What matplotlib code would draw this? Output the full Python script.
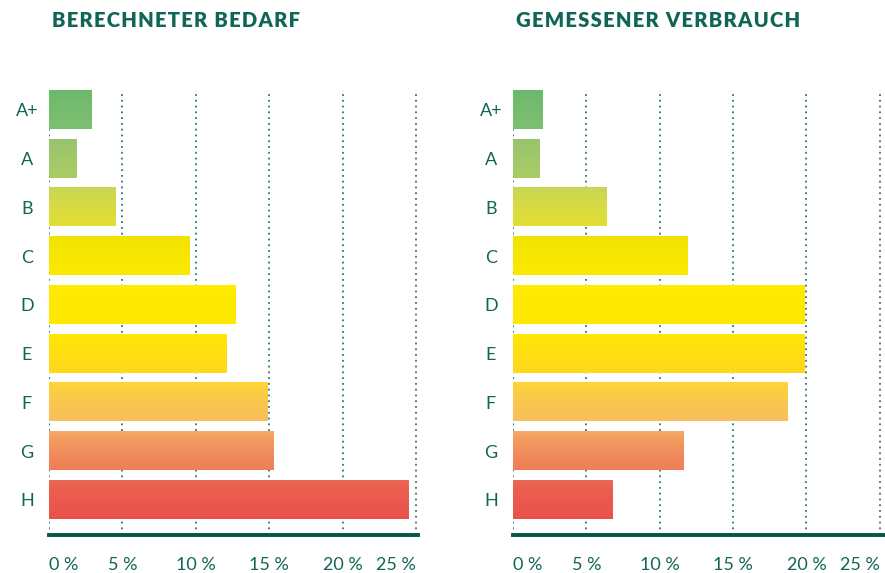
import numpy as np
import matplotlib.pyplot as plt
from matplotlib.colors import LinearSegmentedColormap

plt.rcParams['font.family'] = ['Lato', 'DejaVu Sans']

classes = ['A+', 'A', 'B', 'C', 'D', 'E', 'F', 'G', 'H']
bedarf = [2.9, 1.9, 4.5, 9.6, 12.7, 12.1, 14.9, 15.3, 24.5]
verbrauch = [2.0, 1.8, 6.4, 11.9, 19.9, 19.9, 18.7, 11.6, 6.8]
xticks = [0, 5, 10, 15, 20, 25]
xlabels = ['0 %', '5 %', '10 %', '15 %', '20 %', '25 %']

# top / bottom colour of each bar (vertical gradient)
grad = [('#6bb86c', '#7dbf70'),
        ('#95c36f', '#aacc66'),
        ('#c6d55a', '#e2df34'),
        ('#efe200', '#fce900'),
        ('#ffec00', '#fde800'),
        ('#ffe700', '#ffd81c'),
        ('#ffd634', '#f8bf5d'),
        ('#f6ab65', '#ee7e57'),
        ('#ed6754', '#e9524a')]

txt = '#0f6656'
dark = '#045645'


def spaced(s):
    # fake letter spacing with hair spaces
    return '\u200a'.join(s)


def panel(ax, values, title, xmax):
    y = np.arange(len(classes))
    bars = ax.barh(y, values, height=0.78, color='none', zorder=3)
    g = np.linspace(0, 1, 64) ** 0.7
    g = g.reshape(-1, 1)
    for b, (c1, c2) in zip(bars, grad):
        cmap = LinearSegmentedColormap.from_list('g', [c1, c2])
        x0, y0, w, h = b.get_x(), b.get_y(), b.get_width(), b.get_height()
        ax.imshow(g, cmap=cmap, aspect='auto', extent=(x0, x0 + w, y0 + h, y0),
                  zorder=3, interpolation='bicubic')
    ax.set_xlim(0, xmax)
    ax.set_ylim(8.72, -0.41)
    ax.set_xticks(xticks)
    ax.set_xticklabels(xlabels, fontsize=13, color=txt)
    labs = ax.get_xticklabels()
    labs[0].set_ha('left')
    labs[-1].set_ha('right')
    ax.set_yticks(y)
    ax.set_yticklabels(classes, fontsize=13, color=txt, ha='center')
    ax.tick_params(axis='y', length=0, pad=16)
    ax.tick_params(axis='x', length=0, pad=16)
    ax.grid(axis='x', color='#2a7a6a', linestyle=(0, (1, 2.2)), linewidth=1.3, zorder=1)
    for s in ['top', 'right', 'left']:
        ax.spines[s].set_visible(False)
    ax.spines['bottom'].set_color(dark)
    ax.spines['bottom'].set_linewidth(2.8)
    ax.set_title(spaced(title), loc='left', fontsize=14.6, fontweight='heavy',
                 color=txt, pad=45, x=0.008)


fig = plt.figure(figsize=(8.85, 5.73), dpi=100)
ax1 = fig.add_axes([0.0554, 0.0663, 0.4164, 0.777])
ax2 = fig.add_axes([0.5797, 0.0663, 0.4203, 0.777])
panel(ax1, bedarf, 'BERECHNETER BEDARF', 25.1)
panel(ax2, verbrauch, 'GEMESSENER VERBRAUCH', 25.35)

fig.savefig('out.png', dpi=100)
